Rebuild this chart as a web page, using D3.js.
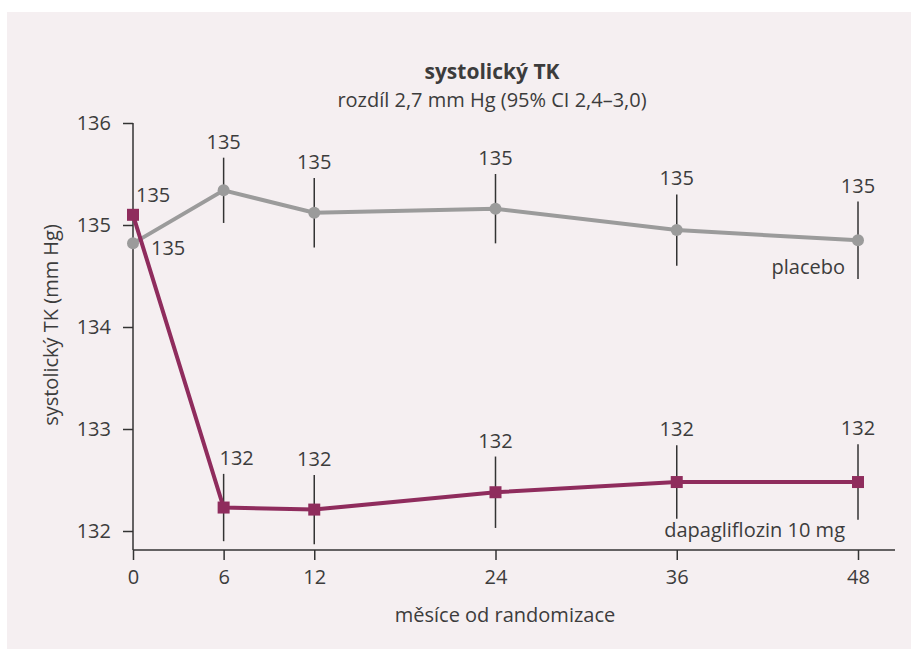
<!DOCTYPE html>
<meta charset="utf-8">
<script src="https://d3js.org/d3.v7.min.js"></script>
<style>
  body { margin: 0; background: #fff; }
  text { font-family: "Open Sans", "Noto Sans", sans-serif; fill: #3c3c3c; }
</style>
<div id="chart"></div>
<script>

// data
var months = [0, 6, 12, 24, 36, 48];
var placeboMean = [134.82, 135.34, 135.12, 135.16, 134.95, 134.85];
var placeboErr  = [null, 0.32, 0.34, 0.34, 0.35, 0.38];
var placeboLabels = ["135", "135", "135", "135", "135", "135"];
var dapaMean = [135.1, 132.23, 132.21, 132.38, 132.48, 132.48];
var dapaErr  = [null, 0.33, 0.34, 0.35, 0.36, 0.37];
var dapaLabels = ["135", "132", "132", "132", "132", "132"];
var yTicks = [132, 133, 134, 135, 136];

var W = 911, H = 649;
var fs = "20px";
var svg = d3.select("#chart").append("svg")
    .attr("width", W).attr("height", H);

// panel background
svg.append("rect")
    .attr("x", 7).attr("y", 12)
    .attr("width", W - 7).attr("height", H - 12)
    .attr("fill", "#f5eff1");

var x = d3.scaleLinear().domain([0, 48]).range([133, 858]);
var y = d3.scaleLinear().domain([132, 136]).range([531, 123]);
var axisY = 550;

// y axis
var yAxis = svg.append("g")
    .attr("transform", "translate(133,0)")
    .call(d3.axisLeft(y).tickValues(yTicks).tickSize(10).tickPadding(12).tickFormat(d3.format("d")));
yAxis.select(".domain").remove();
yAxis.append("line").attr("x1", 0).attr("x2", 0).attr("y1", 123).attr("y2", axisY)
    .attr("stroke", "#333").attr("stroke-width", 1.5);

// x axis
var xAxis = svg.append("g")
    .attr("transform", "translate(0," + axisY + ")")
    .call(d3.axisBottom(x).tickValues(months).tickSize(10).tickPadding(10));
xAxis.select(".domain").remove();
xAxis.append("line").attr("x1", 133).attr("x2", 895).attr("y1", 0).attr("y2", 0)
    .attr("stroke", "#333").attr("stroke-width", 1.5);

svg.selectAll(".tick line").attr("stroke", "#333").attr("stroke-width", 1.5);
svg.selectAll(".tick text").style("font-size", fs).style("font-family", "'Open Sans', sans-serif").attr("fill", "#3c3c3c");

// titles
svg.append("text").attr("x", 492).attr("y", 79).attr("text-anchor", "middle")
    .style("font-size", "21px").style("font-weight", "bold").attr("fill", "#222")
    .text("systolický TK");
svg.append("text").attr("x", 492).attr("y", 107).attr("text-anchor", "middle")
    .style("font-size", fs)
    .text("rozdíl 2,7 mm Hg (95% CI 2,4–3,0)");

svg.append("text").attr("x", 505).attr("y", 622).attr("text-anchor", "middle")
    .style("font-size", fs).text("měsíce od randomizace");
svg.append("text").attr("transform", "translate(58,325) rotate(-90)")
    .attr("text-anchor", "middle").style("font-size", fs)
    .text("systolický TK (mm Hg)");

function series(mean, err, labels, color, shape, nudge) {
  var pts = months.map(function (m, i) { return {m: m, v: mean[i], e: err[i], l: labels[i], i: i}; });
  var g = svg.append("g");
  // error bars
  g.selectAll("line.err").data(pts.filter(function (d) { return d.e != null; }))
    .enter().append("line")
      .attr("x1", function (d) { return x(d.m); })
      .attr("x2", function (d) { return x(d.m); })
      .attr("y1", function (d) { return y(d.v + d.e); })
      .attr("y2", function (d) { return y(d.v - d.e); })
      .attr("stroke", "#333").attr("stroke-width", 1.5);
  g.append("path").datum(pts)
      .attr("d", d3.line().x(function (d) { return x(d.m); }).y(function (d) { return y(d.v); }))
      .attr("fill", "none").attr("stroke", color).attr("stroke-width", 4);
  if (shape === "circle") {
    g.selectAll("circle").data(pts).enter().append("circle")
      .attr("cx", function (d) { return x(d.m); })
      .attr("cy", function (d) { return y(d.v); })
      .attr("r", 6).attr("fill", color);
  } else {
    g.selectAll("rect").data(pts).enter().append("rect")
      .attr("x", function (d) { return x(d.m) - 6; })
      .attr("y", function (d) { return y(d.v) - 6; })
      .attr("width", 12).attr("height", 12).attr("fill", color);
  }
  // value labels above error bars (first point handled separately)
  g.selectAll("text").data(pts.slice(1)).enter().append("text")
      .attr("x", function (d) { return x(d.m) + (d.i === 1 ? nudge : 0); })
      .attr("y", function (d) { return y(d.v + d.e) - 9; })
      .attr("text-anchor", "middle").style("font-size", fs)
      .text(function (d) { return d.l; });
  return pts;
}

series(placeboMean, placeboErr, placeboLabels, "#9b9b9b", "circle", 0);
series(dapaMean, dapaErr, dapaLabels, "#8f2c5d", "square", 13);

// labels at month 0
svg.append("text").attr("x", x(0) + 3).attr("y", y(dapaMean[0]) - 13)
    .style("font-size", fs).text(dapaLabels[0]);
svg.append("text").attr("x", x(0) + 18).attr("y", y(placeboMean[0]) + 12)
    .style("font-size", fs).text(placeboLabels[0]);

// series names
svg.append("text").attr("x", 845).attr("y", 274).attr("text-anchor", "end")
    .style("font-size", fs).text("placebo");
svg.append("text").attr("x", 845).attr("y", 537).attr("text-anchor", "end")
    .style("font-size", fs).text("dapagliflozin 10 mg");

</script>
